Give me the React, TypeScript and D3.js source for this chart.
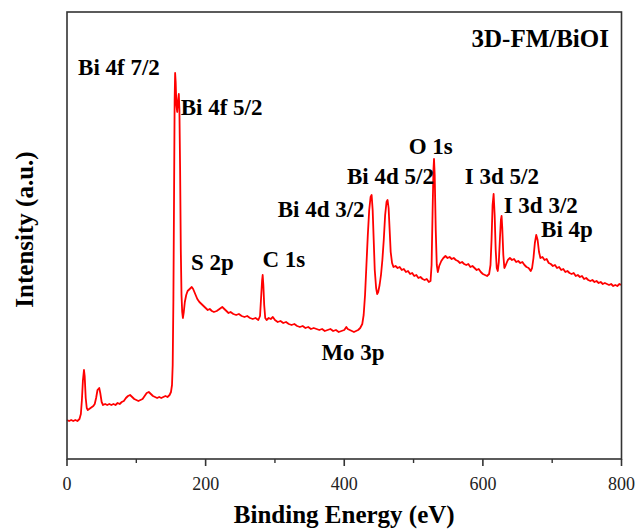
import React from "react";
import * as d3 from "d3";

const energy: number[] = [
  0, 3, 6, 9, 12, 15, 18, 20, 21.5, 23, 24.5, 25.5, 27, 28.5, 30, 32, 34, 36, 38, 40, 42, 44, 46.5, 48, 50, 52, 55, 58, 61, 64, 67, 70, 73, 76, 79, 82, 85, 88, 91, 94, 97, 100, 103, 106, 109, 112, 115, 118, 121, 124, 127, 130, 133, 136, 139, 142, 145, 148, 150, 151.5, 152.5, 153.5, 154.5, 155.3, 156, 156.8, 157.8, 159, 160.2, 161.3, 162.2, 163.2, 164.2, 165.2, 166.2, 167.2, 168.5, 170, 172, 174, 177, 180, 182, 185, 188, 191, 194, 197, 200, 203, 206, 209, 212, 216, 220, 224, 227, 230, 233, 236, 240, 244, 248, 252, 256, 260, 264, 268, 272, 276, 278.5, 280, 281.5, 282.3, 283.3, 284.5, 286, 288, 291, 294, 297, 300, 304, 308, 312, 316, 320, 324, 328, 332, 336, 340, 344, 348, 352, 356, 360, 364, 368, 372, 376, 380, 384, 388, 392, 396, 400, 403, 405, 408, 411, 414, 417, 420, 423, 426, 428, 430, 432, 434, 436, 438, 439.5, 441, 442.5, 444, 446, 447.5, 449, 451, 453, 455, 457, 459, 461, 462.5, 464, 465.5, 467, 469, 471, 474, 477, 480, 483, 486, 489, 492, 495, 498, 501, 504, 507, 510, 513, 516, 519, 522, 524.5, 526, 527.5, 528.7, 529.5, 530.5, 532, 533.5, 535, 537, 540, 543, 546, 549, 552, 555, 558, 561, 564, 567, 570, 573, 576, 579, 582, 585, 588, 591, 594, 597, 600, 603, 606, 609, 611, 612.5, 614, 615.5, 617, 618.5, 620, 621.5, 623, 624.5, 626, 627, 628, 629.5, 631, 633, 636, 639, 642, 645, 648, 651, 654, 657, 660, 663, 666, 669, 671, 673, 675, 677, 679, 681, 683, 686, 689, 692, 695, 698, 701, 704, 707, 710, 713, 716, 719, 722, 725, 728, 731, 734, 737, 740, 743, 746, 749, 752, 755, 758, 761, 764, 767, 770, 773, 776, 779, 782, 785, 788, 791, 794, 797, 800,
];

const intensity: number[] = [
  39, 38, 39, 38, 39, 38, 40, 45, 59, 79, 89, 83, 61, 51, 49, 50, 51, 52, 53, 55, 61, 69, 71, 66, 57, 54, 55, 54, 55, 54, 55, 54, 56, 55, 57, 58, 61, 63, 64, 62, 60, 59, 58, 59, 60, 63, 66, 67, 65, 63, 62, 61, 62, 61, 62, 63, 62, 64, 67, 74, 94, 159, 269, 359, 386, 377, 354, 347, 359, 365, 349, 289, 209, 164, 147, 141, 147, 157, 164, 168, 170, 172, 170, 165, 160, 157, 155, 153, 151, 149, 150, 148, 147, 148, 150, 152, 150, 148, 146, 147, 145, 144, 145, 143, 142, 143, 141, 140, 141, 139, 143, 161, 179, 184, 174, 154, 141, 139, 141, 140, 142, 139, 137, 138, 136, 137, 135, 134, 135, 133, 132, 133, 131, 132, 130, 131, 130, 129, 130, 128, 129, 130, 128, 129, 127, 128, 129, 132, 130, 129, 128, 127, 128, 129, 131, 135, 144, 164, 194, 224, 249, 262, 264, 249, 219, 189, 171, 165, 167, 174, 184, 199, 219, 244, 257, 259, 251, 229, 207, 196, 192, 193, 191, 192, 189, 190, 187, 188, 185, 186, 183, 184, 181, 182, 180, 179, 180, 177, 178, 194, 249, 289, 300, 284, 229, 194, 187, 193, 198, 201, 203, 201, 202, 200, 201, 199, 198, 196, 197, 195, 194, 195, 192, 193, 191, 189, 190, 187, 185, 184, 183, 185, 194, 219, 254, 265, 244, 209, 191, 188, 197, 219, 239, 243, 231, 204, 191, 194, 199, 201, 199, 200, 197, 198, 196, 197, 194, 192, 191, 188, 191, 201, 216, 224, 219, 207, 201, 202, 199, 200, 196, 195, 193, 194, 191, 192, 189, 190, 187, 188, 186, 185, 186, 183, 184, 182, 183, 180, 181, 179, 178, 179, 177, 178, 176, 177, 175, 176, 175, 174, 175, 173, 174, 173, 175, 174,
];

const xTicks: number[] = [0, 200, 400, 600, 800];
const xMinorTicks: number[] = [100, 300, 500, 700];

const peakLabels: string[] = ["Bi 4f 7/2", "Bi 4f 5/2", "S 2p", "C 1s", "Mo 3p", "Bi 4d 3/2", "Bi 4d 5/2", "O 1s", "I 3d 5/2", "I 3d 3/2", "Bi 4p"];
const labelEnergy: number[] = [16, 164, 179, 282, 367, 304, 404, 493, 574, 630, 684];
const labelIntensity: number[] = [384, 344, 189, 192, 99, 242, 275, 305, 275, 246, 222];

const sampleName = "3D-FM/BiOI";
const xTitle = "Binding Energy (eV)";
const yTitle = "Intensity (a.u.)";

const W = 636;
const H = 529;
const left = 67;
const right = 621.5;
const top = 12;
const bottom = 459;
const FONT = "'Liberation Serif', 'Times New Roman', serif";

export default function App() {
  const x = d3.scaleLinear().domain([0, 800]).range([left, right]);
  const y = d3.scaleLinear().domain([0, 447]).range([bottom, top]);
  const pts: [number, number][] = energy.map((e, i) => [e, intensity[i]]);
  const line = d3
    .line<[number, number]>()
    .x((d) => x(d[0]))
    .y((d) => y(d[1]));

  return (
    <svg
      width={W}
      height={H}
      style={{ position: "absolute", left: 0, top: 0, background: "#fff" }}
    >
      <rect x={0} y={0} width={W} height={H} fill="#fff" />
      <path d={line(pts) || ""} fill="none" stroke="#ff0000" strokeWidth={1.8} strokeLinejoin="round" />
      <rect x={left} y={top} width={right - left} height={bottom - top} fill="none" stroke="#333" strokeWidth={1.6} />
      {xTicks.map((t) => (
        <g key={"t" + t}>
          <line x1={x(t)} x2={x(t)} y1={bottom} y2={bottom + 7} stroke="#333" strokeWidth={1.6} />
          <text x={x(t)} y={490} textAnchor="middle" fontFamily={FONT} fontSize={18} fill="#222">
            {t}
          </text>
        </g>
      ))}
      {xMinorTicks.map((t) => (
        <line key={"m" + t} x1={x(t)} x2={x(t)} y1={bottom} y2={bottom + 4} stroke="#333" strokeWidth={1.4} />
      ))}
      {peakLabels.map((l, i) => (
        <text
          key={l}
          x={x(labelEnergy[i])}
          y={y(labelIntensity[i])}
          fontFamily={FONT}
          fontWeight="bold"
          fontSize={23}
          fill="#000"
        >
          {l}
        </text>
      ))}
      <text x={609} y={47} textAnchor="end" fontFamily={FONT} fontWeight="bold" fontSize={25} fill="#000">
        {sampleName}
      </text>
      <text x={(left + right) / 2} y={523} textAnchor="middle" fontFamily={FONT} fontWeight="bold" fontSize={25} fill="#000">
        {xTitle}
      </text>
      <text
        transform={`translate(33, ${(top + bottom) / 2 - 6}) rotate(-90)`}
        textAnchor="middle"
        fontFamily={FONT}
        fontWeight="bold"
        fontSize={25}
        fill="#000"
      >
        {yTitle}
      </text>
    </svg>
  );
}
